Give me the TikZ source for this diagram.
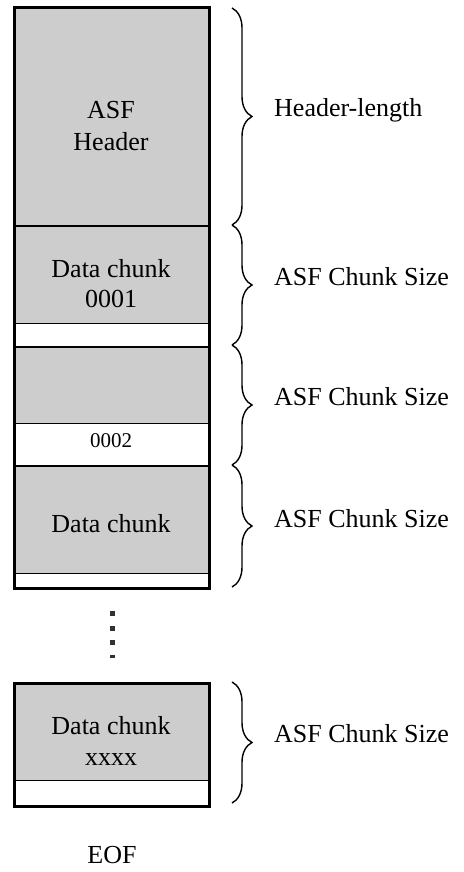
\documentclass[tikz,border=0pt]{standalone}
\usepackage{fontspec}
\setmainfont{Liberation Serif}
\usetikzlibrary{decorations.pathreplacing}
\definecolor{boxgray}{RGB}{205,205,205}
\definecolor{dotgray}{RGB}{50,50,50}
\begin{document}
\begin{tikzpicture}[x=1pt,y=-1pt,
  seg/.style={draw=black, line width=1pt, anchor=north west, inner sep=0pt, minimum width=194pt},
  grayseg/.style={seg, fill=boxgray},
  whiteseg/.style={seg, fill=white},
  frame/.style={draw=black, line width=3pt},
  sep/.style={draw=black, line width=2pt},
  lbl/.style={font=\fontsize{26}{30}\selectfont, anchor=base west, inner sep=0pt},
  txt/.style={font=\fontsize{26}{30}\selectfont, anchor=base, inner sep=0pt},
  smalltxt/.style={font=\fontsize{21}{25}\selectfont, anchor=base, inner sep=0pt},
  brc/.style={decorate, decoration={brace, amplitude=20pt}, line width=1.4pt},
  dot/.style={fill=dotgray, draw=none}
]
\useasboundingbox (0,0) rectangle (463,872);

% column segments
\node[grayseg, minimum height=217pt] (hdr) at (14,8) {};
\node[grayseg, minimum height=98pt] (c1g) at (14,225) {};
\node[whiteseg, minimum height=23pt] (c1w) at (14,323) {};
\node[grayseg, minimum height=77pt] (c2g) at (14,346) {};
\node[whiteseg, minimum height=42pt] (c2w) at (14,423) {};
\node[grayseg, minimum height=108pt] (c3g) at (14,465) {};
\node[whiteseg, minimum height=14pt] (c3w) at (14,573) {};

% chunk boundaries
\draw[sep] (hdr.south west) -- (hdr.south east);
\draw[sep] (c1w.south west) -- (c1w.south east);
\draw[sep] (c2w.south west) -- (c2w.south east);
% outer frame
\draw[frame] (hdr.north west) rectangle (c3w.south east);

% last chunk
\node[grayseg, minimum height=97pt] (c4g) at (14,683) {};
\node[whiteseg, minimum height=25pt] (c4w) at (14,780) {};
\draw[frame] (c4g.north west) rectangle (c4w.south east);

% texts inside boxes
\node[txt] (hdrA) at (111,118) {ASF};
\node[txt] (hdrB) at (111,150) {Header};
\node[txt] (c1A) at (111,277) {Data chunk};
\node[txt] (c1B) at (111,307) {0001};
\node[smalltxt] (c2B) at (111,447) {0002};
\node[txt] (c3A) at (111,532) {Data chunk};
\node[txt] (c4A) at (111,734) {Data chunk};
\node[txt] (c4B) at (111,765) {xxxx};
\node[txt] (eof) at (112,863) {EOF};

% vertical dots
\fill[dot] (110,611) rectangle (115,616);
\fill[dot] (110,626) rectangle (115,631);
\fill[dot] (110,640) rectangle (115,645);
\fill[dot] (110,655) rectangle (115,658);

% braces
\coordinate (b0) at (232,8);
\coordinate (b1) at (232,225);
\coordinate (b2) at (232,345);
\coordinate (b3) at (232,465);
\coordinate (b4) at (232,587);
\coordinate (b5) at (232,682);
\coordinate (b6) at (232,803);
\draw[brc] (b0) -- (b1);
\draw[brc] (b1) -- (b2);
\draw[brc] (b2) -- (b3);
\draw[brc] (b3) -- (b4);
\draw[brc] (b5) -- (b6);

% labels
\node[lbl] (l0) at (274,117) {Header-length};
\node[lbl] (l1) at (274,285) {ASF Chunk Size};
\node[lbl] (l2) at (274,405) {ASF Chunk Size};
\node[lbl] (l3) at (274,527) {ASF Chunk Size};
\node[lbl] (l4) at (274,742) {ASF Chunk Size};
\end{tikzpicture}
\end{document}
